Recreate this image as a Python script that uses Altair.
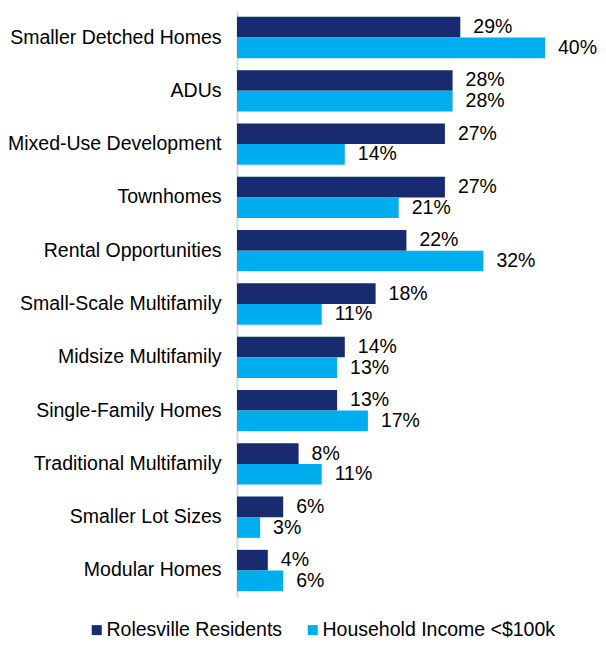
import altair as alt
import pandas as pd

categories = [
    "Smaller Detched Homes",
    "ADUs",
    "Mixed-Use Development",
    "Townhomes",
    "Rental Opportunities",
    "Small-Scale Multifamily",
    "Midsize Multifamily",
    "Single-Family Homes",
    "Traditional Multifamily",
    "Smaller Lot Sizes",
    "Modular Homes",
]
residents = [29, 28, 27, 27, 22, 18, 14, 13, 8, 6, 4]
income = [40, 28, 14, 21, 32, 11, 13, 17, 11, 3, 6]
series = ["Rolesville Residents", "Household Income <$100k"]
colors = ["#172B6E", "#00AEEF"]

rows = []
for c, r, i in zip(categories, residents, income):
    rows.append({"category": c, "series": series[0], "value": r, "label": f"{r}%"})
    rows.append({"category": c, "series": series[1], "value": i, "label": f"{i}%"})
df = pd.DataFrame(rows)

FONT = "Liberation Sans"
FS = 19.5

base = alt.Chart(df).encode(
    y=alt.Y(
        "category:N",
        sort=categories,
        scale=alt.Scale(paddingInner=0.225, paddingOuter=0.11),
        axis=alt.Axis(
            title=None,
            labelFontSize=FS,
            labelFont=FONT,
            labelColor="#000000",
            labelPadding=16,
            ticks=False,
            domainColor="#D9D9D9",
            domainWidth=2,
            labelLimit=300,
        ),
    ),
    yOffset=alt.YOffset("series:N", sort=series, scale=alt.Scale(paddingInner=0, paddingOuter=0)),
    x=alt.X("value:Q", scale=alt.Scale(domain=[0, 40]), axis=None),
)

bars = base.mark_bar().encode(
    color=alt.Color(
        "series:N",
        sort=series,
        scale=alt.Scale(domain=series, range=colors),
        legend=alt.Legend(
            title=None,
            orient="none",
            legendX=-150,
            legendY=609,
            direction="horizontal",
            symbolType="square",
            symbolSize=100,
            symbolStrokeWidth=0,
            labelFontSize=FS,
            labelFont=FONT,
            labelColor="#000000",
            labelOffset=0,
            columnPadding=20,
            labelLimit=400,
        ),
    )
)

text = base.mark_text(
    align="left", baseline="middle", dx=13, fontSize=FS, font=FONT, color="#000000"
).encode(text="label:N")

chart = (
    (bars + text)
    .properties(
        width=308,
        height=586,
        autosize=alt.AutoSizeParams(type="none"),
        padding={"left": 229, "top": 3, "right": 53, "bottom": 45},
    )
    .configure_view(stroke=None)
)

chart.save("out.html", embed_options={"renderer": "svg", "actions": False})
